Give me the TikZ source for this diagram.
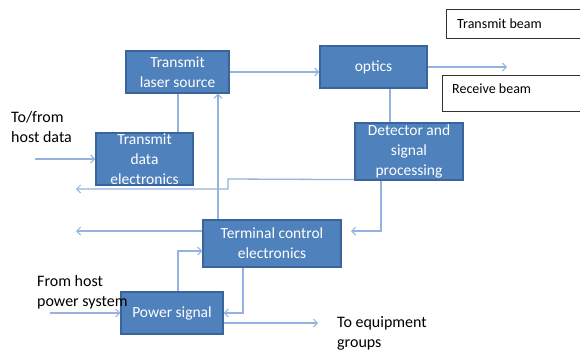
\documentclass[tikz,border=0pt]{standalone}
\usepackage{fontspec}
\setmainfont{Carlito}
\usetikzlibrary{arrows.meta}
\definecolor{boxfill}{HTML}{4F81BD}
\definecolor{boxline}{HTML}{3A659C}
\definecolor{conncol}{HTML}{95B3DE}
\tikzset{
  blockbox/.style={draw=boxline, fill=boxfill, line width=1.2pt, text=white, inner sep=0pt, align=center, font=\fontsize{15.5}{20}\selectfont},
  beambox/.style={draw=black!80, fill=white, line width=0.8pt, inner sep=0pt, text=black, font=\fontsize{14}{17}\selectfont},
  conn/.style={draw=conncol, line width=1.3pt},
  arr/.style={conn, -{Straight Barb[length=4pt, width=8pt, line width=1pt]}},
  plainlabel/.style={text=black, align=left, anchor=north west, inner sep=0pt, font=\fontsize{16}{20}\selectfont}
}
\begin{document}
\begin{tikzpicture}[x=1pt, y=-1pt]
\useasboundingbox (0,0) rectangle (580,354);
\clip (0,0) rectangle (580,354);
\fill[white] (0,0) rectangle (580,354);

% blocks
\node[blockbox, minimum width=103pt, minimum height=42pt] (laser) at (177.5,72) {Transmit\\laser source};
\node[blockbox, minimum width=107pt, minimum height=42pt] (optics) at (373.5,67) {optics};
\node[blockbox, minimum width=108pt, minimum height=57pt] (detector) at (409,151.5) {Detector and\\signal\\processing};
\node[blockbox, minimum width=97pt, minimum height=52pt] (tde) at (144.5,159) {Transmit\\data\\electronics};
\node[blockbox, minimum width=138pt, minimum height=47pt] (terminal) at (272,243.5) {Terminal control\\electronics};
\node[blockbox, minimum width=102pt, minimum height=42pt] (power) at (172,313) {Power signal};

% beam label boxes
\node[beambox, minimum width=145pt, minimum height=29pt, anchor=north west] (txbeam) at (446,9) {};
\node[beambox, minimum width=150pt, minimum height=36pt, anchor=north west] (rxbeam) at (442,75) {};
\node[anchor=west, inner sep=0pt, font=\fontsize{14}{17}\selectfont] (txtext) at (457,24) {Transmit beam};
\node[anchor=west, inner sep=0pt, font=\fontsize{14}{17}\selectfont] (rxtext) at (452,89) {Receive beam};

% outside labels
\node[plainlabel] (hostdata) at (11,111.5) {To/from\\host data};
\node[plainlabel] (hostpower) at (37,275) {From host\\power system};
\node[plainlabel] (equip) at (337,316) {To equipment\\groups};

% free ends
\coordinate (txend) at (507,67);
\coordinate (hdin) at (35,159);
\coordinate (hdout) at (76,189);
\coordinate (ctlout) at (76,231);
\coordinate (pwin) at (50,313);
\coordinate (eqend) at (318,323);

% connectors
\draw[arr] (laser.east) -- (laser.east -| optics.west);
\draw[arr] (optics.east) -- (txend);
\draw[conn] (optics.south -| 390,0) -- (detector.north -| 390,0);
\draw[conn] (tde.north -| 178,0) -- (laser.south -| 178,0);
\draw[arr] (terminal.north -| 218,0) -- (laser.south -| 218,0);
\draw[arr] (hdin) -- (tde.west |- hdin);
\draw[arr] (detector.south west) ++(0,-1) -- (228,179) -- (228,189) -- (hdout);
\draw[arr] (terminal.west |- ctlout) -- (ctlout);
\draw[arr] (power.north -| 178,0) -- (178,251) -- (terminal.west |- 0,251);
\draw[arr] (terminal.south -| 243,0) -- (243,313) -- (power.east |- 0,313);
\draw[arr] (pwin) -- (power.west |- pwin);
\draw[arr] (power.east |- eqend) -- (eqend);
\draw[arr] (detector.south -| 381,0) -- (381,231) -- (351,231);
\end{tikzpicture}
\end{document}
